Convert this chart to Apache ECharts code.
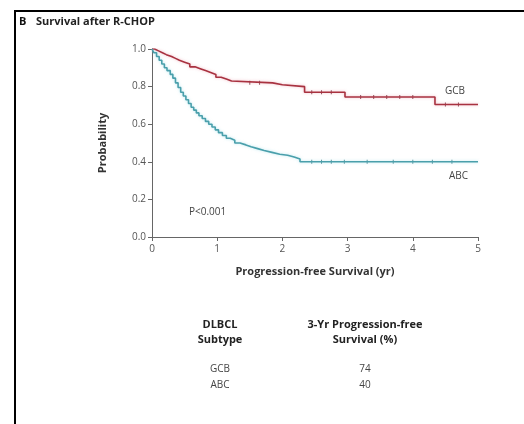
<!DOCTYPE html>
<html>
<head>
<meta charset="utf-8">
<script src="https://cdn.jsdelivr.net/npm/echarts@6/dist/echarts.min.js"></script>
<style>
  html, body { margin: 0; padding: 0; background: #fff; }
  #chart { width: 524px; height: 424px; }
</style>
</head>
<body>
<div id="chart"></div>
<script>
// Kaplan-Meier progression-free survival after R-CHOP, by DLBCL subtype
const gcbTimes = [0, 0.04, 0.1, 0.16, 0.22, 0.3, 0.36, 0.42, 0.5, 0.58, 0.66, 0.74, 0.82, 0.9, 0.98, 1.06, 1.14, 1.22, 1.85, 2.0, 2.34, 2.96, 4.34, 5.0];
const gcbSurv  = [1.0, 0.99, 0.98, 0.97, 0.96, 0.95, 0.94, 0.93, 0.92, 0.905, 0.895, 0.885, 0.875, 0.865, 0.85, 0.84, 0.83, 0.82, 0.81, 0.80, 0.77, 0.745, 0.705, 0.705];
const abcTimes = [0, 0.03, 0.07, 0.11, 0.15, 0.19, 0.23, 0.28, 0.32, 0.36, 0.4, 0.44, 0.48, 0.52, 0.56, 0.6, 0.64, 0.68, 0.72, 0.77, 0.82, 0.87, 0.92, 0.97, 1.02, 1.08, 1.14, 1.2, 1.27, 1.35, 1.44, 1.52, 1.62, 1.72, 1.84, 1.96, 2.08, 2.18, 2.27, 5.0];
const abcSurv  = [1.0, 0.98, 0.96, 0.94, 0.92, 0.9, 0.885, 0.865, 0.845, 0.82, 0.795, 0.77, 0.75, 0.73, 0.71, 0.69, 0.675, 0.66, 0.645, 0.63, 0.615, 0.6, 0.585, 0.57, 0.555, 0.54, 0.525, 0.515, 0.5, 0.49, 0.48, 0.47, 0.46, 0.45, 0.44, 0.435, 0.425, 0.415, 0.40, 0.40];
const gcbCensored = [1.5, 1.65, 2.45, 2.6, 2.75, 3.2, 3.4, 3.6, 3.8, 4.0, 4.5, 4.7];
const abcCensored = [2.45, 2.6, 2.75, 2.95, 3.3, 3.7, 4.0, 4.3, 4.6];
const xTicks = [0, 1, 2, 3, 4, 5];
const yTicks = [0.0, 0.2, 0.4, 0.6, 0.8, 1.0];
const subtypes = ['GCB', 'ABC'];
const threeYearPFS = [74, 40];
const pValueText = 'P<0.001';

function pairs(t, s) { return t.map((v, i) => [v, s[i]]); }
function survivalAt(t, s, x) {
  let v = s[0];
  for (let i = 0; i < t.length; i++) { if (t[i] <= x) v = s[i]; }
  return v;
}

const gcbColor = '#a83240';
const abcColor = '#4a9fab';
const font = '"Open Sans", "Noto Sans", sans-serif';

const chart = echarts.init(document.getElementById('chart'));
chart.setOption({
  animation: false,
  backgroundColor: '#fff',
  grid: { left: 152, top: 49, right: 46, bottom: 187 },
  xAxis: {
    type: 'value', min: 0, max: 5, interval: 1,
    name: 'Progression-free Survival (yr)',
    nameLocation: 'middle', nameGap: 29,
    nameTextStyle: { fontFamily: font, fontSize: 11, fontWeight: 'bold', color: '#333' },
    axisLine: { lineStyle: { color: '#666', width: 1 } },
    axisTick: { show: true, length: 4, lineStyle: { color: '#666' } },
    axisLabel: { fontFamily: font, fontSize: 10, color: '#555', margin: 7,
      formatter: v => xTicks.includes(v) ? String(v) : '' },
    splitLine: { show: false }
  },
  yAxis: {
    type: 'value', min: 0, max: 1, interval: 0.2,
    name: 'Probability', nameLocation: 'middle', nameGap: 44, nameRotate: 90,
    nameTextStyle: { fontFamily: font, fontSize: 11, fontWeight: 'bold', color: '#333' },
    axisLine: { show: true, lineStyle: { color: '#666', width: 1 } },
    axisTick: { show: true, length: 4, lineStyle: { color: '#666' } },
    axisLabel: { fontFamily: font, fontSize: 10, color: '#555', margin: 6,
      formatter: v => yTicks.some(t => Math.abs(t - v) < 1e-9) ? v.toFixed(1) : '' },
    splitLine: { show: false }
  },
  series: [
    {
      name: 'GCB', type: 'line', step: 'end', showSymbol: false,
      data: pairs(gcbTimes, gcbSurv),
      lineStyle: { color: gcbColor, width: 1.6, shadowColor: 'rgba(230,120,140,0.5)', shadowBlur: 3 }
    },
    {
      name: 'ABC', type: 'line', step: 'end', showSymbol: false,
      data: pairs(abcTimes, abcSurv),
      lineStyle: { color: abcColor, width: 1.6, shadowColor: 'rgba(120,210,225,0.5)', shadowBlur: 3 }
    },
    {
      name: 'GCB censored', type: 'scatter', symbol: 'rect', symbolSize: [1, 4],
      itemStyle: { color: '#6a2230' },
      data: gcbCensored.map(t => [t, survivalAt(gcbTimes, gcbSurv, t)])
    },
    {
      name: 'ABC censored', type: 'scatter', symbol: 'rect', symbolSize: [1, 4],
      itemStyle: { color: '#2e7580' },
      data: abcCensored.map(t => [t, survivalAt(abcTimes, abcSurv, t)])
    }
  ],
  graphic: [
    { type: 'rect', shape: { x: 15, y: 11, width: 530, height: 430 },
      style: { fill: 'none', stroke: '#000', lineWidth: 2 } },
    { type: 'text', left: 19, top: 16,
      style: { text: 'B', fontFamily: font, fontSize: 11, fontWeight: 'bold', fill: '#111' } },
    { type: 'text', left: 36, top: 16,
      style: { text: 'Survival after R-CHOP', fontFamily: font, fontSize: 11, fontWeight: 'bold', fill: '#222' } },
    { type: 'text', left: 189, top: 207,
      style: { text: pValueText, fontFamily: font, fontSize: 10, fill: '#444' } },
    { type: 'text', left: 445, top: 86,
      style: { text: subtypes[0], fontFamily: font, fontSize: 10, fill: '#444' } },
    { type: 'text', left: 449, top: 171,
      style: { text: subtypes[1], fontFamily: font, fontSize: 10, fill: '#444' } },
    { type: 'text', x: 220, y: 317,
      style: { text: 'DLBCL\nSubtype', align: 'center', lineHeight: 15, fontFamily: font, fontSize: 11, fontWeight: 'bold', fill: '#222' } },
    { type: 'text', x: 365, y: 317,
      style: { text: '3-Yr Progression-free\nSurvival (%)', align: 'center', lineHeight: 15, fontFamily: font, fontSize: 11, fontWeight: 'bold', fill: '#222' } },
    { type: 'text', x: 220, y: 361,
      style: { text: subtypes.join('\n'), align: 'center', lineHeight: 16, fontFamily: font, fontSize: 10, fill: '#444' } },
    { type: 'text', x: 365, y: 361,
      style: { text: threeYearPFS.join('\n'), align: 'center', lineHeight: 16, fontFamily: font, fontSize: 10, fill: '#444' } }
  ]
});
</script>
</body>
</html>
